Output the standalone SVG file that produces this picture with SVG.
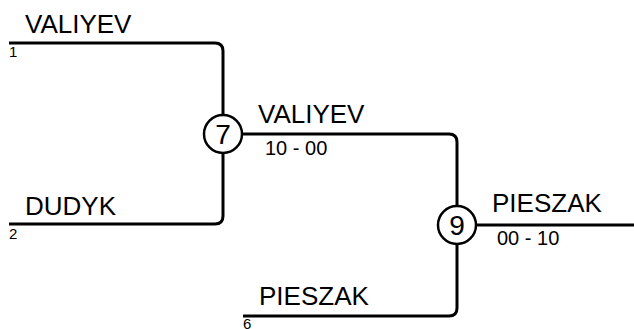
<svg xmlns="http://www.w3.org/2000/svg" width="634" height="329" viewBox="0 0 634 329">
<style>
.c{fill:none;stroke:#000;stroke-width:3}
.n{fill:#fff;stroke:#000;stroke-width:2.5}
text{font-family:"Liberation Sans",Arial,sans-serif;fill:#000}
.name{font-size:26px}
.score{font-size:20px}
.seed{font-size:15px}
.num{font-size:28px;text-anchor:middle}
</style>
<rect width="634" height="329" fill="#fff"/>
<g id="connectors">
<path class="c" d="M9,43 H215 Q223,43 223,51 V114"/>
<path class="c" d="M9,224 H215 Q223,224 223,216 V154"/>
<path class="c" d="M243,134 H449 Q457,134 457,142 V205"/>
<path class="c" d="M243,316 H449 Q457,316 457,308 V245"/>
<path class="c" d="M477,225 H634"/>
</g>
<g id="entry1"><text class="name" x="25" y="33">VALIYEV</text><text class="seed" x="9" y="57">1</text></g>
<g id="entry2"><text class="name" x="25" y="215">DUDYK</text><text class="seed" x="9" y="239">2</text></g>
<g id="entry6"><text class="name" x="259" y="305">PIESZAK</text><text class="seed" x="243" y="329">6</text></g>
<g id="match7"><circle class="n" cx="223" cy="134" r="19"/><text class="num" x="223" y="144">7</text>
<text class="name" x="258" y="123">VALIYEV</text><text class="score" x="265" y="155">10 - 00</text></g>
<g id="match9"><circle class="n" cx="457" cy="225" r="19"/><text class="num" x="457" y="235">9</text>
<text class="name" x="492" y="212">PIESZAK</text><text class="score" x="497" y="245">00 - 10</text></g>
</svg>
